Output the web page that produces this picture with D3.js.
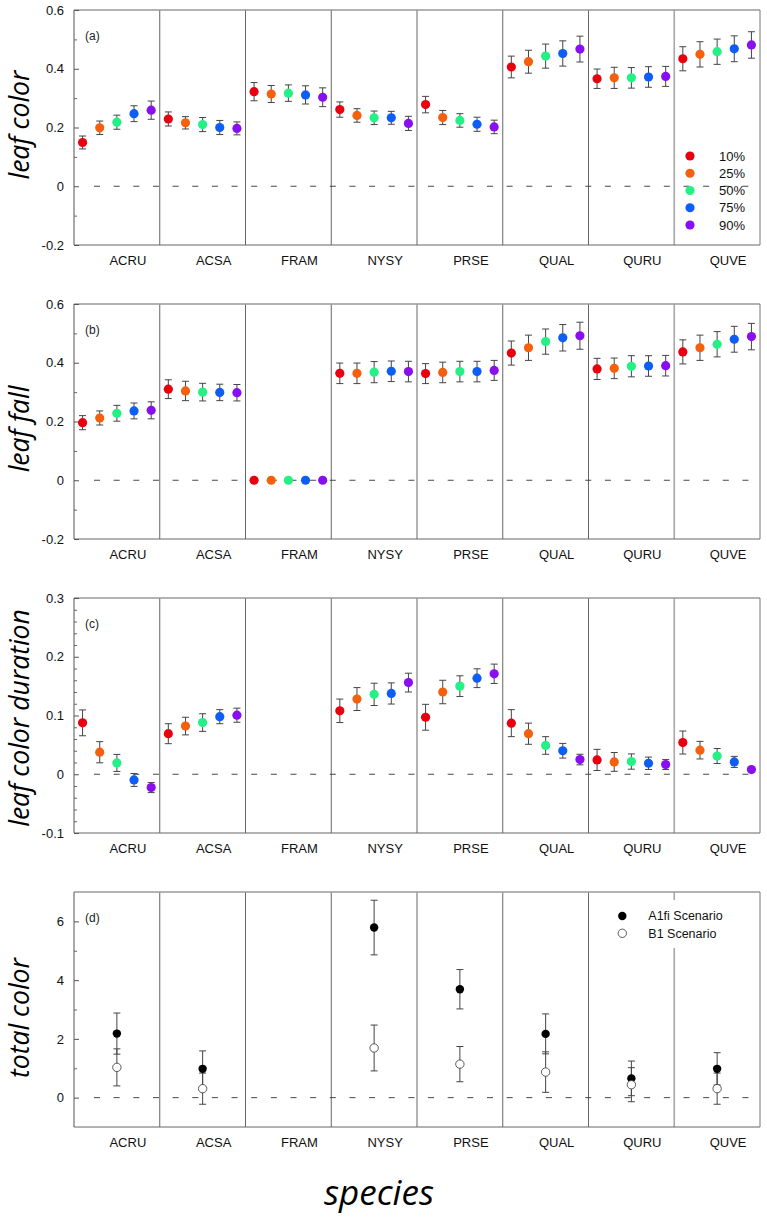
<!DOCTYPE html>
<html>
<head>
<meta charset="utf-8">
<script src="https://cdn.jsdelivr.net/npm/d3@7"></script>
<style>
  body { margin: 0; background: #fff; }
  svg text { font-family: "Liberation Sans", Arial, Helvetica, sans-serif; }
</style>
</head>
<body>
<div id="chart"></div>
<script>
const species = ["ACRU", "ACSA", "FRAM", "NYSY", "PRSE", "QUAL", "QURU", "QUVE"];
const percentiles = ["10%", "25%", "50%", "75%", "90%"];
const pctColors = ["#e8000e", "#f5600f", "#23f085", "#0d5ef5", "#8a0ff0"];

// (a) leaf color, one row per species, columns = percentiles
const leafColor = [
  [0.149, 0.199, 0.218, 0.247, 0.259],
  [0.229, 0.216, 0.210, 0.200, 0.197],
  [0.322, 0.314, 0.317, 0.311, 0.303],
  [0.261, 0.241, 0.233, 0.233, 0.214],
  [0.278, 0.234, 0.224, 0.211, 0.202],
  [0.406, 0.424, 0.443, 0.452, 0.467],
  [0.366, 0.369, 0.369, 0.372, 0.374],
  [0.434, 0.449, 0.458, 0.468, 0.481]
];
const leafColorErr = [
  [0.022, 0.023, 0.024, 0.027, 0.031],
  [0.024, 0.021, 0.024, 0.024, 0.022],
  [0.031, 0.029, 0.028, 0.031, 0.032],
  [0.026, 0.023, 0.023, 0.022, 0.024],
  [0.028, 0.024, 0.023, 0.024, 0.023],
  [0.037, 0.039, 0.041, 0.043, 0.044],
  [0.033, 0.036, 0.035, 0.035, 0.034],
  [0.041, 0.043, 0.043, 0.044, 0.045]
];

// (b) leaf fall
const leafFall = [
  [0.196, 0.212, 0.228, 0.236, 0.238],
  [0.310, 0.304, 0.300, 0.299, 0.298],
  [0, 0, 0, 0, 0],
  [0.364, 0.364, 0.368, 0.371, 0.370],
  [0.363, 0.367, 0.370, 0.370, 0.374],
  [0.433, 0.451, 0.472, 0.485, 0.492],
  [0.379, 0.381, 0.388, 0.389, 0.390],
  [0.437, 0.451, 0.463, 0.480, 0.489]
];
const leafFallErr = [
  [0.024, 0.024, 0.027, 0.027, 0.029],
  [0.032, 0.033, 0.030, 0.028, 0.028],
  [0, 0, 0, 0, 0],
  [0.035, 0.035, 0.036, 0.035, 0.035],
  [0.034, 0.035, 0.035, 0.035, 0.034],
  [0.041, 0.043, 0.043, 0.045, 0.046],
  [0.036, 0.035, 0.036, 0.035, 0.035],
  [0.041, 0.043, 0.043, 0.044, 0.045]
];

// (c) leaf color duration (no data for FRAM)
const colorDuration = [
  [0.0875, 0.0375, 0.0193, -0.0097, -0.0227],
  [0.069, 0.082, 0.088, 0.098, 0.1005],
  null,
  [0.108, 0.128, 0.136, 0.1375, 0.156],
  [0.097, 0.140, 0.150, 0.1635, 0.171],
  [0.087, 0.069, 0.049, 0.040, 0.025],
  [0.0244, 0.021, 0.0216, 0.0187, 0.0165],
  [0.054, 0.041, 0.031, 0.021, 0.008]
];
const colorDurationErr = [
  [0.022, 0.018, 0.0145, 0.011, 0.0085],
  [0.017, 0.015, 0.015, 0.012, 0.012],
  null,
  [0.020, 0.0195, 0.019, 0.018, 0.016],
  [0.022, 0.020, 0.0176, 0.016, 0.0165],
  [0.023, 0.018, 0.015, 0.0125, 0.009],
  [0.018, 0.016, 0.013, 0.0105, 0.0085],
  [0.0196, 0.015, 0.0128, 0.0094, 0.003]
];

// (d) total color by scenario (no data for FRAM)
const scenarios = ["A1fi Scenario", "B1 Scenario"];
const totalA1fi =    [2.18, 0.98, null, 5.79, 3.69, 2.17, 0.655, 0.98];
const totalA1fiErr = [0.70, 0.61, null, 0.93, 0.67, 0.68, 0.59, 0.55];
const totalB1 =      [1.03, 0.305, null, 1.69, 1.14, 0.87, 0.44, 0.305];
const totalB1Err =   [0.63, 0.53, null, 0.78, 0.60, 0.69, 0.58, 0.53];

const W = 767, H = 1219;
const left = 74, right = 760;
const panelTop0 = 10, panelStep = 294, panelH = 235;

const svg = d3.select("#chart").append("svg")
  .attr("width", W).attr("height", H);

const x = d3.scaleBand().domain(species).range([left, right]).padding(0);
const xOff = d3.scalePoint().domain(percentiles).range([-34.3, 34.3]);
const colorScale = d3.scaleOrdinal().domain(percentiles).range(pctColors);

const fmt1 = function(d) { return d === 0 ? "0" : (d < 0 ? "-" : "") + Math.abs(d).toFixed(1); };
const fmt0 = function(d) { return d === 0 ? "0" : String(d); };

const panels = [
  {tag: "(a)", label: "leaf color", labelMid: 115, domain: [-0.2, 0.6],
   major: [-0.2, 0, 0.2, 0.4, 0.6], minor: [-0.1, 0.1, 0.3, 0.5], fmt: fmt1,
   vals: leafColor, errs: leafColorErr},
  {tag: "(b)", label: "leaf fall", labelMid: 125, domain: [-0.2, 0.6],
   major: [-0.2, 0, 0.2, 0.4, 0.6], minor: [-0.1, 0.1, 0.3, 0.5], fmt: fmt1,
   vals: leafFall, errs: leafFallErr},
  {tag: "(c)", label: "leaf color duration", labelMid: 120, domain: [-0.1, 0.3],
   major: [-0.1, 0, 0.1, 0.2, 0.3],
   minor: d3.range(-0.08, 0.3, 0.02).filter(function(v) { return Math.abs(Math.round(v * 10) - v * 10) > 0.01; }),
   fmt: fmt1, vals: colorDuration, errs: colorDurationErr},
  {tag: "(d)", label: "total color", labelMid: 126, domain: [-1, 7],
   major: [0, 2, 4, 6], minor: [1, 3, 5], fmt: fmt0}
];

panels.forEach(function(p, pi) {
  const top = panelTop0 + pi * panelStep;
  const bottom = top + panelH;
  const y = d3.scaleLinear().domain(p.domain).range([bottom, top]);
  const g = svg.append("g");

  // dividers between species
  g.selectAll(".div")
    .data(species.slice(1))
    .enter().append("line")
    .attr("x1", function(d) { return x(d); })
    .attr("x2", function(d) { return x(d); })
    .attr("y1", top).attr("y2", bottom)
    .attr("stroke", function(d) { return d === "QUVE" ? "#a8a8a8" : "#666"; })
    .attr("stroke-width", function(d) { return d === "QUVE" ? 1.6 : 1; });

  // frame
  g.append("line").attr("x1", left).attr("x2", right).attr("y1", top).attr("y2", top)
    .attr("stroke", "#9a9a9a").attr("stroke-width", 1.4);
  g.append("line").attr("x1", left).attr("x2", right).attr("y1", bottom).attr("y2", bottom)
    .attr("stroke", "#666").attr("stroke-width", 1);
  g.append("line").attr("x1", right).attr("x2", right).attr("y1", top).attr("y2", bottom)
    .attr("stroke", "#777").attr("stroke-width", 1);
  g.append("line").attr("x1", left).attr("x2", left).attr("y1", top).attr("y2", bottom)
    .attr("stroke", "#555").attr("stroke-width", 1);

  // zero reference line
  g.append("line")
    .attr("x1", left + 20).attr("x2", right - 10)
    .attr("y1", y(0)).attr("y2", y(0))
    .attr("stroke", "#333").attr("stroke-width", 0.9)
    .attr("stroke-dasharray", "6,13.65");

  // axes: ticks point inward
  const ax = g.append("g").attr("transform", "translate(" + left + ",0)")
    .call(d3.axisLeft(y).tickValues(p.major).tickSizeInner(-5).tickSizeOuter(0)
      .tickPadding(10).tickFormat(p.fmt));
  ax.select(".domain").remove();
  ax.selectAll("line").attr("stroke", "#555");
  ax.selectAll("text").attr("font-size", 13).attr("fill", "#111")
    .attr("font-family", "Liberation Sans, Arial, sans-serif");
  const axm = g.append("g").attr("transform", "translate(" + left + ",0)")
    .call(d3.axisLeft(y).tickValues(p.minor).tickSizeInner(-3).tickSizeOuter(0).tickFormat(""));
  axm.select(".domain").remove();
  axm.selectAll("line").attr("stroke", "#666");

  // category labels
  g.selectAll(".cat")
    .data(species)
    .enter().append("text")
    .attr("x", function(d) { return x(d) + x.bandwidth() / 2 + 11; })
    .attr("y", bottom + 15)
    .attr("dy", "0.35em")
    .attr("text-anchor", "middle")
    .attr("font-size", 13)
    .attr("fill", "#111")
    .text(function(d) { return d; });

  // panel tag
  g.append("text")
    .attr("x", left + 11).attr("y", top + 26).attr("dy", "0.35em")
    .attr("font-size", 12).attr("fill", "#222")
    .text(p.tag);

  // y label
  g.append("text")
    .attr("transform", "translate(29," + (top + p.labelMid) + ") rotate(-90)")
    .attr("text-anchor", "middle")
    .style("font-family", "'Open Sans', sans-serif")
    .style("font-style", "italic")
    .attr("font-size", 26.5)
    .attr("fill", "#000")
    .text(p.label);

  if (p.vals) {
    const pts = [];
    species.forEach(function(s, si) {
      if (!p.vals[si]) return;
      percentiles.forEach(function(pc, k) {
        pts.push({sp: s, pct: pc, v: p.vals[si][k], e: p.errs[si][k]});
      });
    });
    const cx = function(d) { return x(d.sp) + x.bandwidth() / 2 + xOff(d.pct); };
    const eb = g.selectAll(".eb").data(pts.filter(function(d) { return d.e > 0; }))
      .enter().append("g").attr("stroke", "#444").attr("stroke-width", 1);
    eb.append("line").attr("x1", cx).attr("x2", cx)
      .attr("y1", function(d) { return y(d.v + d.e); })
      .attr("y2", function(d) { return y(d.v - d.e); });
    [1, -1].forEach(function(sgn) {
      eb.append("line")
        .attr("x1", function(d) { return cx(d) - 3.5; })
        .attr("x2", function(d) { return cx(d) + 3.5; })
        .attr("y1", function(d) { return y(d.v + sgn * d.e); })
        .attr("y2", function(d) { return y(d.v + sgn * d.e); });
    });
    g.selectAll(".dot").data(pts).enter().append("circle")
      .attr("cx", cx).attr("cy", function(d) { return y(d.v); })
      .attr("r", 4.6)
      .attr("fill", function(d) { return colorScale(d.pct); });

    if (pi === 0) {
      const leg = g.selectAll(".leg").data(percentiles).enter().append("g")
        .attr("transform", function(d, i) { return "translate(690," + (156 + i * 17.25) + ")"; });
      leg.append("circle").attr("r", 4.6).attr("fill", function(d) { return colorScale(d); });
      leg.append("text").attr("x", 29).attr("dy", "0.35em").attr("font-size", 13)
        .attr("fill", "#111").text(function(d) { return d; });
    }
  } else {
    // scenario panel
    const pts = [];
    species.forEach(function(s, si) {
      if (totalA1fi[si] !== null) pts.push({sp: s, sc: scenarios[0], v: totalA1fi[si], e: totalA1fiErr[si]});
      if (totalB1[si] !== null) pts.push({sp: s, sc: scenarios[1], v: totalB1[si], e: totalB1Err[si]});
    });
    const cx = function(d) { return x(d.sp) + x.bandwidth() / 2; };
    const eb = g.selectAll(".eb").data(pts).enter().append("g")
      .attr("stroke", "#444").attr("stroke-width", 1);
    eb.append("line").attr("x1", cx).attr("x2", cx)
      .attr("y1", function(d) { return y(d.v + d.e); })
      .attr("y2", function(d) { return y(d.v - d.e); });
    [1, -1].forEach(function(sgn) {
      eb.append("line")
        .attr("x1", function(d) { return cx(d) - 3.5; })
        .attr("x2", function(d) { return cx(d) + 3.5; })
        .attr("y1", function(d) { return y(d.v + sgn * d.e); })
        .attr("y2", function(d) { return y(d.v + sgn * d.e); });
    });
    g.selectAll(".dot").data(pts).enter().append("circle")
      .attr("cx", cx).attr("cy", function(d) { return y(d.v); })
      .attr("r", 4.2)
      .attr("fill", function(d) { return d.sc === scenarios[0] ? "#000" : "#fff"; })
      .attr("stroke", function(d) { return d.sc === scenarios[0] ? "none" : "#333"; })
      .attr("stroke-width", 0.8);

    g.append("rect").attr("x", 610).attr("y", top + 8).attr("width", 125).attr("height", 48)
      .attr("fill", "#fff");
    const leg = g.selectAll(".leg").data(scenarios).enter().append("g")
      .attr("transform", function(d, i) { return "translate(622.3," + (top + 24 + i * 17.3) + ")"; });
    leg.append("circle").attr("r", 4.2)
      .attr("fill", function(d, i) { return i === 0 ? "#000" : "#fff"; })
      .attr("stroke", function(d, i) { return i === 0 ? "none" : "#333"; })
      .attr("stroke-width", 0.8);
    leg.append("text").attr("x", 26).attr("dy", "0.35em").attr("font-size", 12.5)
      .attr("fill", "#111").text(function(d) { return d; });
  }
});

svg.append("text")
  .attr("x", 379).attr("y", 1205)
  .attr("text-anchor", "middle")
  .style("font-family", "'Open Sans', sans-serif")
  .style("font-style", "italic")
  .attr("font-size", 35)
  .attr("fill", "#000")
  .text("species");
</script>
</body>
</html>
